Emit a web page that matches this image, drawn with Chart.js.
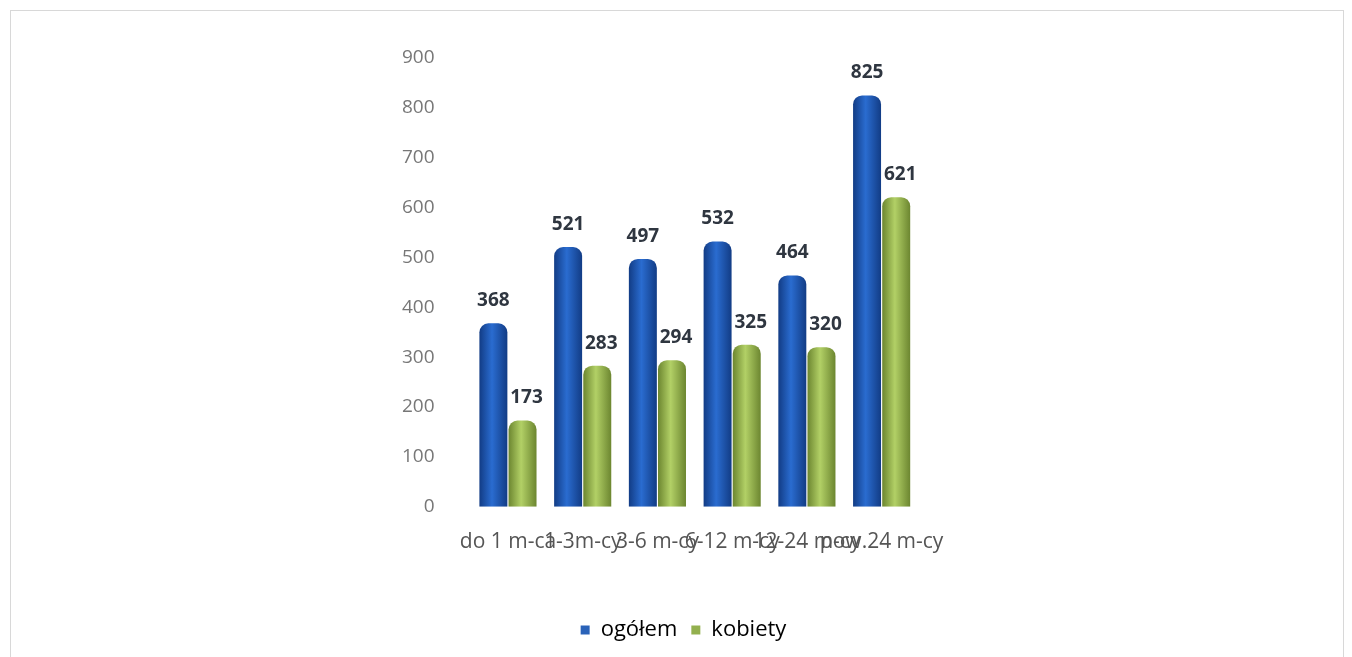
<!DOCTYPE html>
<html>
<head>
<meta charset="utf-8">
<script src="https://cdn.jsdelivr.net/npm/chart.js@4"></script>
<style>
  html, body { margin: 0; padding: 0; background: #fff; }
  body { width: 1352px; height: 657px; position: relative; overflow: hidden; }
  .caption { position: absolute; left: 20px; top: -26px; font: italic bold 29px "Liberation Serif", serif; color: #222; }
  .frame { position: absolute; left: 10px; top: 10px; width: 1332px; height: 660px; border: 1px solid #d8d8d8; }
  .chart-wrap { position: absolute; left: 0; top: 0; width: 1352px; height: 657px; }
</style>
</head>
<body>
<div class="caption">stan na 30.06.2022 r.</div>
<div class="frame"></div>
<div class="chart-wrap"><canvas id="chart"></canvas></div>
<script>
const categories = ['do 1 m-ca', '1-3m-cy', '3-6 m-cy', '6-12 m-cy', '12-24 m-cy', 'pow.24 m-cy'];
const ogolem = [368, 521, 497, 532, 464, 825];
const kobiety = [173, 283, 294, 325, 320, 621];
const yTicks = [0, 100, 200, 300, 400, 500, 600, 700, 800, 900];

const shades = [['#123c85', '#2a6cd0'], ['#6c8630', '#b2d066']];

// horizontal gradient on each bar so they look a bit like cylinders
const cylinders = {
  id: 'cylinders',
  beforeDatasetsDraw(chart) {
    const c = chart.ctx;
    chart.data.datasets.forEach((ds, di) => {
      chart.getDatasetMeta(di).data.forEach(bar => {
        const x0 = bar.x - bar.width / 2;
        const g = c.createLinearGradient(x0, 0, x0 + bar.width, 0);
        g.addColorStop(0, shades[di][0]);
        g.addColorStop(0.45, shades[di][1]);
        g.addColorStop(1, shades[di][0]);
        bar.options = { ...bar.options, backgroundColor: g };
      });
    });
  }
};

const valueLabels = {
  id: 'valueLabels',
  afterDatasetsDraw(chart) {
    const c = chart.ctx;
    c.save();
    c.font = 'bold 19px "Open Sans", sans-serif';
    c.fillStyle = '#2f3640';
    c.textAlign = 'center';
    c.textBaseline = 'bottom';
    chart.data.datasets.forEach((ds, di) => {
      chart.getDatasetMeta(di).data.forEach((bar, i) => {
        c.fillText(ds.data[i], bar.x + (di === 1 ? 4 : 0), bar.y - 13);
      });
    });
    c.restore();
  }
};

// nudge the legend right, like in the original
const legendShift = {
  id: 'legendShift',
  afterLayout(chart) {
    chart.legend.left += 37;
    chart.legend.right += 37;
  }
};

new Chart(document.getElementById('chart'), {
  type: 'bar',
  data: {
    labels: categories,
    datasets: [
      { label: 'ogółem', data: ogolem, backgroundColor: shades[0][1], borderRadius: { topLeft: 9, topRight: 9 }, borderSkipped: 'bottom' },
      { label: 'kobiety', data: kobiety, backgroundColor: shades[1][1], borderRadius: { topLeft: 9, topRight: 9 }, borderSkipped: 'bottom' }
    ]
  },
  options: {
    responsive: true,
    maintainAspectRatio: false,
    animation: false,
    layout: { padding: { left: 374, right: 433, top: 58, bottom: 6 } },
    datasets: { bar: { categoryPercentage: 0.78, barPercentage: 0.96 } },
    plugins: {
      legend: {
        position: 'bottom',
        labels: {
          boxWidth: 9, boxHeight: 9, padding: 14,
          color: '#444',
          font: { family: '"Open Sans", sans-serif', size: 22 },
          generateLabels(chart) {
            const cols = ['#2a62b8', '#93b04e'];
            return chart.data.datasets.map((ds, i) => ({
              text: ds.label, fillStyle: cols[i], strokeStyle: cols[i], lineWidth: 0, datasetIndex: i
            }));
          }
        }
      },
      tooltip: { enabled: false }
    },
    scales: {
      x: {
        grid: { display: false },
        border: { display: false },
        ticks: {
          autoSkip: false, maxRotation: 0, minRotation: 0, padding: 15,
          color: '#555', font: { family: '"Open Sans", sans-serif', size: 21 }
        },
        afterFit(scale) { scale.height += 35; }
      },
      y: {
        min: 0, max: 900,
        grid: { display: false },
        border: { display: false },
        afterBuildTicks(scale) { scale.ticks = yTicks.map(v => ({ value: v })); },
        ticks: { padding: 28, color: '#777', font: { family: '"Open Sans", sans-serif', size: 19 } }
      }
    }
  },
  plugins: [cylinders, valueLabels, legendShift]
});
</script>
</body>
</html>
